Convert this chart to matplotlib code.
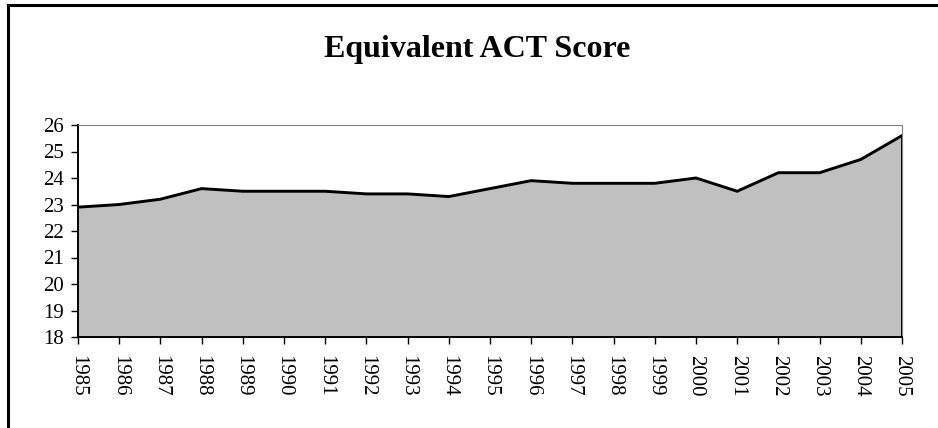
import matplotlib.pyplot as plt
from matplotlib.lines import Line2D

years = list(range(1985, 2006))
scores = [22.9, 23.0, 23.2, 23.6, 23.5, 23.5, 23.5, 23.4, 23.4, 23.3, 23.6,
          23.9, 23.8, 23.8, 23.8, 24.0, 23.5, 24.2, 24.2, 24.7, 25.6]
yticks = list(range(18, 27))

plt.rcParams['font.family'] = ['Liberation Serif', 'DejaVu Serif']

fig = plt.figure(figsize=(9.38, 4.28), dpi=100)
ax = fig.add_axes([78 / 938, 1 - 337 / 428, (902 - 78) / 938, (337 - 125) / 428])

ax.fill_between(years, 18, scores, color='#c0c0c0', linewidth=0)
ax.plot(years, scores, color='black', linewidth=2.1, solid_joinstyle='miter')
ax.plot([years[-1], years[-1]], [18, scores[-1]], color='black', linewidth=2.1)

ax.set_xlim(years[0], years[-1])
ax.set_ylim(18, 26)
ax.set_yticks(yticks)
ax.set_xticks(years)
ax.set_xticklabels([str(y) for y in years], rotation=270)
ax.tick_params(axis='both', direction='out', length=5, width=1, labelsize=15, color='black')
ax.tick_params(axis='x', pad=8)
ax.tick_params(axis='y', pad=5)

for side in ['left', 'bottom']:
    ax.spines[side].set_color('black')
    ax.spines[side].set_linewidth(1.4)
for side in ['top', 'right']:
    ax.spines[side].set_color('#808080')
    ax.spines[side].set_linewidth(0.8)

fig.text(477 / 938, 1 - 49 / 428, 'Equivalent ACT Score', ha='center', va='center',
         fontsize=23, fontweight='bold')

# outer chart frame (only top and left are visible)
fig.add_artist(Line2D([7.5 / 938, 7.5 / 938], [0, 1 - 4.5 / 428], color='black', linewidth=2.2,
                      transform=fig.transFigure))
fig.add_artist(Line2D([7.5 / 938, 1], [1 - 4.5 / 428, 1 - 4.5 / 428], color='black', linewidth=2.2,
                      transform=fig.transFigure))

fig.savefig('out.png', dpi=100)
